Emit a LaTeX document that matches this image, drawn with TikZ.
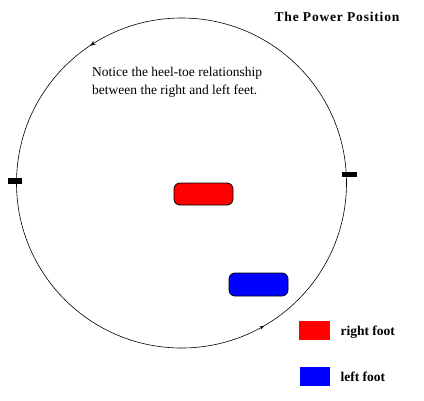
\documentclass[tikz,border=0pt]{standalone}
\usepackage{fontspec}
\setmainfont{Liberation Serif}
\usetikzlibrary{
    arrows.meta,
    decorations.markings
}
\definecolor{footRed}{RGB}{255,0,0}
\definecolor{footBlue}{RGB}{0,0,255}

\begin{document}
\begin{tikzpicture}[
    x=1pt,
    y=-1pt,
    font=\fontsize{13.5}{18}\selectfont,
    >=Stealth,
    foot/.style={
        draw=black,
        line width=0.8pt,
        rounded corners=6pt,
        inner sep=0pt
    },
    swatch/.style={
        inner sep=0pt,
        minimum width=31pt,
        minimum height=19pt
    },
    legendtext/.style={
        anchor=west,
        font=\fontsize{13.5}{16}\selectfont\bfseries
    }
]

\useasboundingbox (0,0) rectangle (424,400);

% =============================================================
% Rotation circle with direction marks
% =============================================================

\draw[
    line width=0.6pt,
    postaction={decorate},
    decoration={
        markings,
        mark=at position 0.171 with {\arrow[scale=0.8]{<}},
        mark=at position 0.662 with {\arrow{<}}
    }
]
(181.5,183) circle (165);

% Side marks on the circle
\fill (8,178) rectangle (22,184);
\fill (342,172) rectangle (357,177);

% Title
\node[
    font=\fontsize{13.5}{16}\selectfont\bfseries\addfontfeatures{LetterSpace=6}
] (title) at (337,17)
{The Power Position};

% Note
\node[
    anchor=north west,
    align=left,
    inner sep=0pt
] (note) at (92,67)
{Notice the heel-toe relationship\\between the right and left feet.};

% =============================================================
% Feet
% =============================================================

\node[
    foot,
    fill=footRed,
    minimum width=59pt,
    minimum height=22pt
] (rightFoot) at (203.5,194) {};

\node[
    foot,
    fill=footBlue,
    minimum width=59pt,
    minimum height=23pt
] (leftFoot) at (258.5,284.5) {};

% =============================================================
% Legend
% =============================================================

\node[
    swatch,
    fill=footRed
] (keyRight) at (314.5,330.5) {};

\node[
    swatch,
    fill=footBlue,
    minimum width=30pt
] (keyLeft) at (315,376.5) {};

\node[legendtext] (keyRightText) at (337,332) {right foot};
\node[legendtext] (keyLeftText) at (337,377) {left foot};

\end{tikzpicture}
\end{document}
